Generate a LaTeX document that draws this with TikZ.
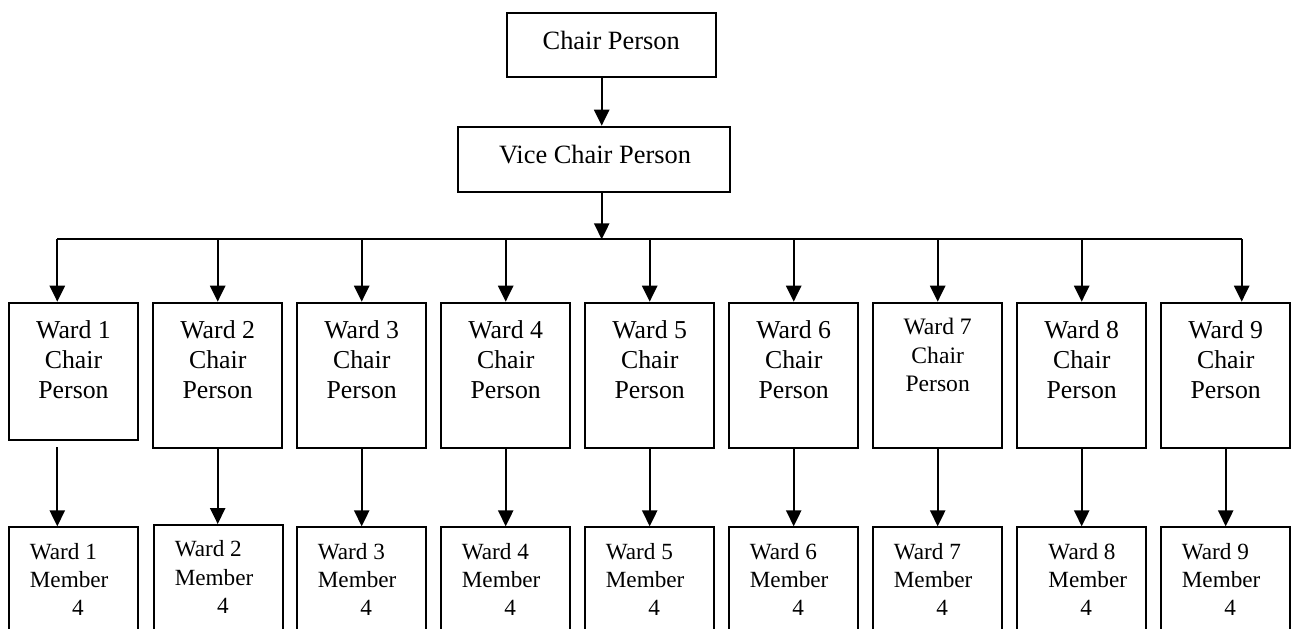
\documentclass[tikz,border=0pt]{standalone}
\usepackage{fontspec}
\setmainfont{Liberation Serif}
\usetikzlibrary{arrows.meta,calc}
\tikzset{
 box/.style={draw, line width=1pt, inner sep=0pt, minimum width=64.25pt},
 chairbox/.style={box, minimum height=72.65pt},
 memberbox/.style={box, minimum height=86.35pt},
 chairtxt/.style={anchor=north, inner sep=0pt, align=center, font=\fontsize{12.9}{15.1}\selectfont},
 smalltxt/.style={chairtxt, font=\fontsize{11.8}{14.25}\selectfont},
 membertxt/.style={anchor=north west, inner sep=0pt, align=left, font=\fontsize{11.6}{14.2}\selectfont},
 toptxt/.style={anchor=base, inner sep=0pt, font=\fontsize{13.2}{15.8}\selectfont},
 arr/.style={line width=1pt, -{Triangle[width=7.6pt,length=8pt]}},
 busline/.style={line width=1pt}
}
\begin{document}
\begin{tikzpicture}[x=0.5pt,y=-0.5pt]
\useasboundingbox (0,0) rectangle (1298,628);
\clip (0,0) rectangle (1298,628);
% top
\node[box, minimum width=104.5pt, minimum height=32pt] (chair) at (611.2,45.3) {};
\node[toptxt] (chairt) at (611.2,49.3) {Chair Person};
\node[box, minimum width=136.15pt, minimum height=32.5pt] (vice) at (593.85,159.2) {};
\node[toptxt] (vicet) at (595,163.3) {Vice Chair Person};
% ward chair boxes
\node[box, minimum height=68.65pt] (w1) at (73.5,371.35) {};
\foreach \i/\cx in {2/217.7,3/361.7,4/505.7,5/649.7,6/793.7,7/937.7,8/1081.7,9/1225.7}
 \node[chairbox] (w\i) at (\cx,375.35) {};
\foreach \i in {1,2,3,4,5,6,8,9}
 \node[chairtxt] (wt\i) at ($(w\i.north)+(0,18)$) {Ward \i\\Chair\\Person};
\node[smalltxt] (wt7) at ($(w7.north)+(0,16.2)$) {Ward 7\\Chair\\Person};
% member boxes
\foreach \i/\cx in {1/73.7,3/361.7,4/505.7,5/649.7,6/793.7,7/937.7,8/1081.7,9/1225.7}
 \node[memberbox] (m\i) at (\cx,613.65) {};
\node[box, minimum height=87.5pt] (m2) at (218.6,612.5) {};
\foreach \i in {1,2,3,4,5,6,7,9}
 \node[membertxt] (mt\i) at ($(m\i.north west)+(21,16.2)$) {Ward \i\\Member\\\hspace*{21.2pt}4};
\node[membertxt] (mt8) at ($(m8.north west)+(31.6,16.2)$) {Ward 8\\Member\\\hspace*{15.9pt}4};
% connectors
\coordinate (v) at (601.7,0);
\coordinate (bus) at (601.7,239.3);
\coordinate (busl) at (57.3,239.3);
\coordinate (busr) at (1241.7,239.3);
\draw[arr] (chair.south -| v) -- (vice.north -| v);
\draw[arr] (vice.south -| v) -- (bus);
\draw[busline] (busl) -- (busr);
\draw[arr] (busl) -- (w1.north -| busl);
\foreach \i in {2,...,8}
 \draw[arr] (bus -| w\i.north) -- (w\i.north);
\draw[arr] (busr) -- (w9.north -| busr);
\coordinate (s1) at (57.3,447);
\draw[arr] (s1) -- (m1.north -| s1);
\foreach \i in {2,...,9}
 \draw[arr] (w\i.south) -- (w\i.south |- m\i.north);
\end{tikzpicture}
\end{document}
